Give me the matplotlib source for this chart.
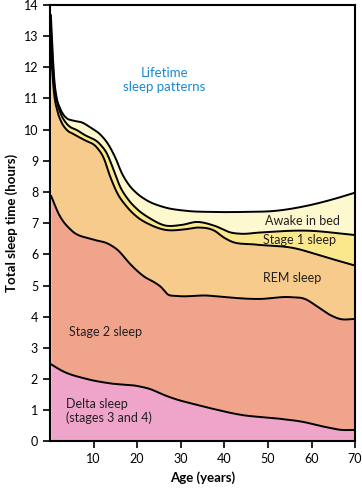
import matplotlib.pyplot as plt
import numpy as np

plt.rcParams['font.family'] = ['Lato', 'DejaVu Sans']

# boundaries between the stacked bands (hours), each with its own ages
awake_top_age = [0.2, 0.6, 1.0, 1.5, 2.2, 3.0, 4.0, 5.0, 7.5, 9.5, 11.5, 13.5, 15.0, 16.5,
                 18, 20, 22, 26, 31, 37.6, 44, 52, 59, 65, 70]
awake_top = [13.7, 12.5, 11.6, 11.05, 10.72, 10.5, 10.35, 10.3, 10.22, 10.05, 9.85, 9.5, 9.1,
             8.6, 8.25, 7.95, 7.75, 7.52, 7.4, 7.36, 7.36, 7.4, 7.56, 7.77, 7.98]

stage1_top_age = [0.2, 0.6, 1.0, 1.6, 2.5, 3.5, 4.5, 6.0, 7.7, 11.5, 13.0, 14.5, 16.0, 18,
                  20, 23, 26.3, 30, 33.8, 37.7, 41.5, 44, 48, 59, 70]
stage1_top = [13.2, 12.2, 11.4, 10.9, 10.5, 10.25, 10.1, 10.0, 9.85, 9.53, 9.25, 8.75, 8.2,
              7.75, 7.45, 7.15, 6.93, 6.94, 7.04, 6.92, 6.7, 6.66, 6.7, 6.76, 6.62]

rem_top_age = [0.2, 0.6, 1.0, 1.7, 2.6, 3.8, 5.5, 7.7, 10.8, 12.3, 13.8, 15.5, 17.5, 20, 23,
               26.3, 30.8, 33.9, 37.7, 39.9, 41.5, 46.8, 56, 63, 70]
rem_top = [12.5, 11.7, 11.1, 10.6, 10.25, 10.0, 9.85, 9.68, 9.42, 9.1, 8.5, 7.95, 7.55, 7.2,
           6.95, 6.79, 6.8, 6.86, 6.76, 6.54, 6.42, 6.32, 6.2, 5.92, 5.64]

stage2_top_age = [0.2, 2, 5, 9.5, 13.5, 15.7, 18, 21.8, 24, 25.5, 27, 29, 36, 40, 48, 55,
                  58.5, 61.5, 64.5, 66.5, 70]
stage2_top = [7.9, 7.3, 6.76, 6.49, 6.33, 6.12, 5.75, 5.27, 5.1, 4.95, 4.72, 4.67, 4.68, 4.63,
              4.57, 4.63, 4.57, 4.31, 4.04, 3.93, 3.93]

delta_top_age = [0.2, 3, 8, 14, 20, 23, 26, 29, 33, 37, 44, 52, 58, 63, 67, 70]
delta_top = [2.48, 2.25, 2.02, 1.86, 1.78, 1.68, 1.5, 1.35, 1.2, 1.06, 0.85, 0.74, 0.63, 0.47,
             0.37, 0.37]

band_names = ["Awake in bed", "Stage 1 sleep", "REM sleep", "Stage 2 sleep",
              "Delta sleep\n(stages 3 and 4)"]
band_colors = ["#fef8cf", "#fbe88c", "#f6cb8b", "#f0a48b", "#eea5c9"]


def smooth(xs, ys, grid):
    # cubic hermite through the read points, finite-difference slopes
    xs, ys = np.asarray(xs, float), np.asarray(ys, float)
    m = np.gradient(ys, xs)
    k = np.clip(np.searchsorted(xs, grid) - 1, 0, len(xs) - 2)
    h = xs[k + 1] - xs[k]
    t = (grid - xs[k]) / h
    h00 = 2 * t**3 - 3 * t**2 + 1
    h10 = t**3 - 2 * t**2 + t
    h01 = -2 * t**3 + 3 * t**2
    h11 = t**3 - t**2
    return h00 * ys[k] + h10 * h * m[k] + h01 * ys[k + 1] + h11 * h * m[k + 1]


ages = np.linspace(0.2, 70, 1400)
tops = [smooth(awake_top_age, awake_top, ages),
        smooth(stage1_top_age, stage1_top, ages),
        smooth(rem_top_age, rem_top, ages),
        smooth(stage2_top_age, stage2_top, ages),
        smooth(delta_top_age, delta_top, ages)]

fig = plt.figure(figsize=(3.62, 4.90), dpi=100)
ax = fig.add_axes([0.138, 0.099, 0.843, 0.891])

for i, top in enumerate(tops):
    bottom = tops[i + 1] if i + 1 < len(tops) else np.zeros_like(ages)
    ax.fill_between(ages, bottom, top, color=band_colors[i], lw=0)
for top in tops:
    ax.plot(ages, top, color="black", lw=1.4, solid_capstyle="butt")

ax.set_xlim(0, 70)
ax.set_ylim(0, 14)
ax.set_xticks(range(10, 71, 10))
ax.set_yticks(range(0, 15))
ax.tick_params(direction="out", length=5, width=1.2, labelsize=9, colors="black")
for spine in ax.spines.values():
    spine.set_linewidth(1.5)

ax.set_xlabel("Age (years)", fontsize=9.5, fontweight="bold")
ax.set_ylabel("Total sleep time (hours)", fontsize=9.5, fontweight="bold")

label_style = dict(fontsize=9, color="#231f20", va="center")
ax.text(26.3, 11.58, "Lifetime\nsleep patterns", fontsize=9.5, color="#1a8ad4",
        ha="center", va="center", linespacing=1.2)
ax.text(57.9, 7.08, band_names[0], ha="center", **label_style)
ax.text(57.2, 6.45, band_names[1], ha="center", **label_style)
ax.text(55.5, 5.25, band_names[2], ha="center", **label_style)
ax.text(4.3, 3.51, band_names[3], ha="left", **label_style)
ax.text(3.6, 0.98, band_names[4], ha="left", linespacing=1.1, **label_style)

plt.savefig("out.png", dpi=100)
